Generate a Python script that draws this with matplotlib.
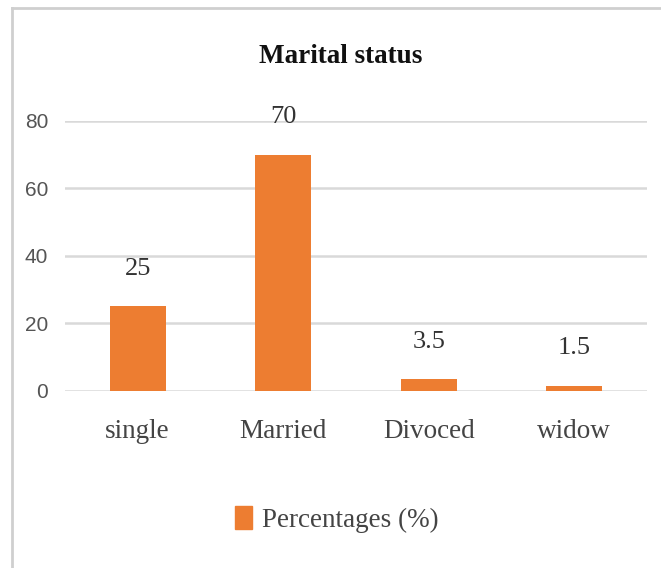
import matplotlib.pyplot as plt
from matplotlib.lines import Line2D
from matplotlib.patches import Patch

CATEGORIES = ['single', 'Married', 'Divoced', 'widow']
VALUES = [25, 70, 3.5, 1.5]
LABELS = ['25', '70', '3.5', '1.5']
YTICKS = [0, 20, 40, 60, 80]

ORANGE = '#ED7D31'
GRID = '#d9d9d9'
SERIF = ['Liberation Serif', 'DejaVu Serif']
NARROW = ['Liberation Sans Narrow', 'Liberation Sans', 'DejaVu Sans']

fig = plt.figure(figsize=(6.61, 5.68), dpi=100)
ax = fig.add_axes([0.098, 0.312, 0.881, 0.475])

x = range(len(CATEGORIES))
bars = ax.bar(x, VALUES, width=0.385, color=ORANGE, zorder=3)
for b, lab in zip(bars, LABELS):
    ax.annotate(lab, (b.get_x() + b.get_width() / 2, b.get_height()),
                xytext=(0, 19), textcoords='offset points', ha='center', va='bottom',
                fontsize=19, family=SERIF, color='#333333', annotation_clip=False)

ax.set_xlim(-0.5, len(CATEGORIES) - 0.5)
ax.set_ylim(0, 80)
ax.set_yticks(YTICKS)
ax.yaxis.grid(True, color=GRID, linewidth=1.8, zorder=0)
ax.set_axisbelow(True)
for s in ax.spines.values():
    s.set_visible(False)
ax.tick_params(axis='both', length=0)
ax.tick_params(axis='y', pad=12)
ax.tick_params(axis='x', pad=20)
ax.set_xticks(list(x))
ax.set_xticklabels(CATEGORIES, family=SERIF, fontsize=19.5, color='#444444')
for t in ax.get_yticklabels():
    t.set_family(NARROW)
    t.set_fontsize(15)
    t.set_color('#555555')

fig.text(0.515, 0.9, 'Marital status', ha='center', va='center',
         family=SERIF, fontsize=19.5, fontweight='bold', color='#111111')

fig.legend(handles=[Patch(color=ORANGE, label='Percentages (%)')],
           loc='center', bbox_to_anchor=(0.51, 0.085), frameon=False,
           prop={'family': SERIF, 'size': 19.5}, handlelength=0.6, handleheight=0.9,
           handletextpad=0.4, labelcolor='#444444')

# frame of the original screenshot
fig.add_artist(Line2D([0.018, 1.0], [0.986, 0.986], transform=fig.transFigure,
                      color='#cfcfcf', linewidth=2))
fig.add_artist(Line2D([0.018, 0.018], [0.0, 0.986], transform=fig.transFigure,
                      color='#cfcfcf', linewidth=2))

fig.savefig('out.png', dpi=100)
